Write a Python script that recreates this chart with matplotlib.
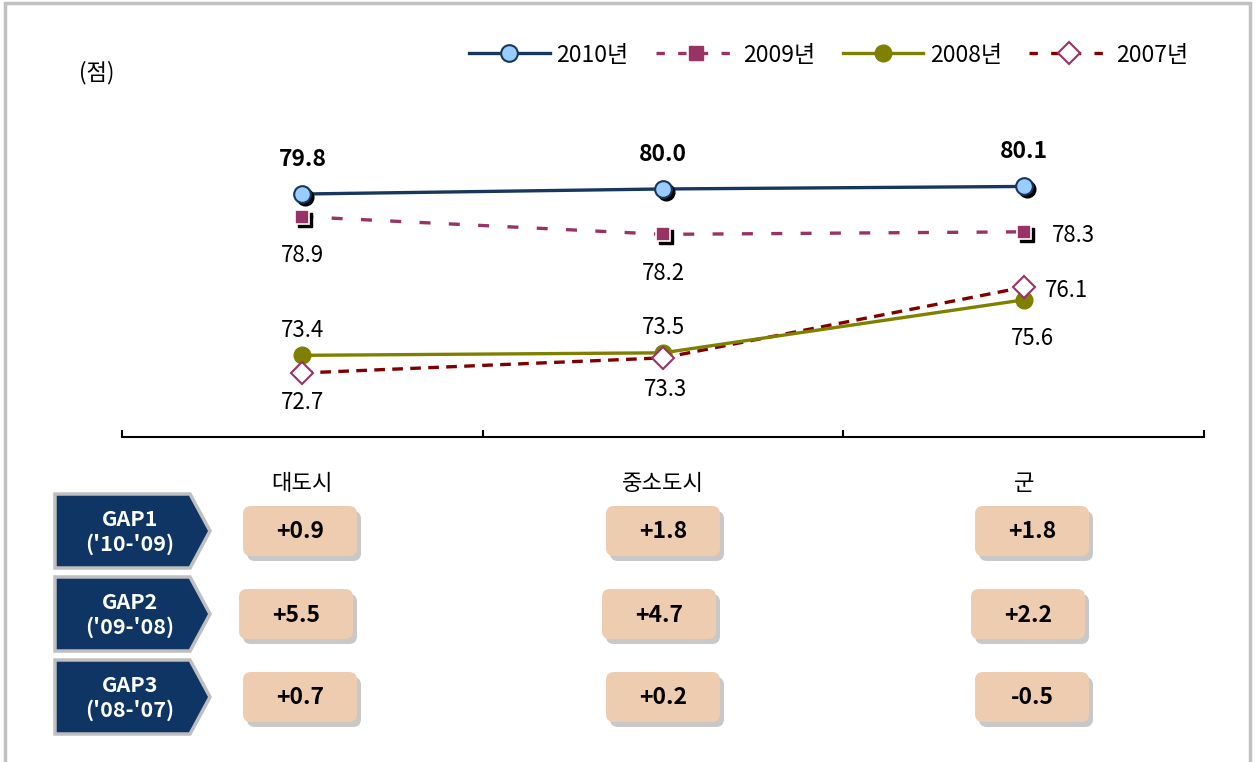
import matplotlib
matplotlib.use("Agg")
import matplotlib.pyplot as plt
from matplotlib.lines import Line2D
from matplotlib.patches import Polygon, FancyBboxPatch
from matplotlib.transforms import offset_copy

plt.rcParams["font.family"] = ["Noto Sans CJK KR", "DejaVu Sans"]

# data
regions = ["대도시", "중소도시", "군"]
years = ["2010년", "2009년", "2008년", "2007년"]
score_2010 = [79.8, 80.0, 80.1]
score_2009 = [78.9, 78.2, 78.3]
score_2008 = [73.4, 73.5, 75.6]
score_2007 = [72.7, 73.3, 76.1]
gap_names = ["GAP1\n('10-'09)", "GAP2\n('09-'08)", "GAP3\n('08-'07)"]
gap_values = [
    ["+0.9", "+1.8", "+1.8"],
    ["+5.5", "+4.7", "+2.2"],
    ["+0.7", "+0.2", "-0.5"],
]

W, H = 1256, 762
fig = plt.figure(figsize=(W / 100, H / 100), dpi=100)

# background layer in pixel coordinates
bg = fig.add_axes([0, 0, 1, 1])
bg.set_xlim(0, W)
bg.set_ylim(H, 0)
bg.axis("off")
bg.plot([5, 5, 1250, 1250], [H, 3, 3, H], color="#C0C0C0", lw=2.5,
        solid_joinstyle="miter")
bg.text(79, 73, "(점)", fontsize=16, ha="left", va="center")

# line chart
ax = fig.add_axes([122 / W, 1 - 437 / H, (1204 - 122) / W, (437 - 100) / H])
ax.set_xlim(0, 3)
ax.set_ylim(70.16, 83.53)
x = [0.5, 1.5, 2.5]

navy = "#17375E"
plum = "#993366"
olive = "#808000"
maroon = "#800000"

sh = offset_copy(ax.transData, fig=fig, x=3, y=-3, units="dots")

ax.plot(x, score_2007, color=maroon, lw=2.4, ls=(0, (3.2, 2.2)), zorder=2)
ax.plot(x, score_2007, ls="none", marker="D", ms=11, mfc="white",
        mec=plum, mew=1.5, zorder=5)

ax.plot(x, score_2008, color=olive, lw=2.4, zorder=3)
ax.plot(x, score_2008, ls="none", marker="o", ms=12, mfc=olive, mec=olive,
        zorder=4)

ax.plot(x, score_2009, color=plum, lw=2.4, ls=(0, (3.3, 5.5)), zorder=3)
ax.plot(x, score_2009, ls="none", marker="s", ms=10, mfc="black",
        mec="black", transform=sh, zorder=4)
ax.plot(x, score_2009, ls="none", marker="s", ms=10, mfc=plum,
        mec="white", mew=1.2, zorder=5)

ax.plot(x, score_2010, color=navy, lw=2.4, zorder=3)
ax.plot(x, score_2010, ls="none", marker="o", ms=12, mfc="black",
        mec="black", transform=sh, zorder=4)
ax.plot(x, score_2010, ls="none", marker="o", ms=12, mfc="#99CCFF",
        mec=navy, mew=1.5, zorder=5)

# data labels (offsets in points)
for xi, v in zip(x, score_2010):
    ax.annotate(f"{v:.1f}", (xi, v), xytext=(0, 25), textcoords="offset points",
                ha="center", va="center", fontsize=16.5, fontweight="bold")
off_2009 = [(0, -28), (0, -28), (36, -3)]
off_2008 = [(0, 18), (0, 18), (6, -28)]
off_2007 = [(0, -21), (2, -23), (31, -2)]
for offs, vals in [(off_2009, score_2009), (off_2008, score_2008),
                   (off_2007, score_2007)]:
    for xi, v, o in zip(x, vals, offs):
        ax.annotate(f"{v:.1f}", (xi, v), xytext=o, textcoords="offset points",
                    ha="center", va="center", fontsize=16)

for s in ["left", "top", "right"]:
    ax.spines[s].set_visible(False)
ax.spines["bottom"].set_linewidth(1.5)
ax.set_yticks([])
ax.set_xticks([0, 1, 2, 3])
ax.set_xticklabels([])
ax.tick_params(axis="x", which="major", direction="in", length=5, width=1.5)
ax.set_xticks(x, minor=True)
ax.set_xticklabels(regions, minor=True, fontsize=16)
ax.tick_params(axis="x", which="minor", length=0, pad=25)
ax.patch.set_alpha(0)

# legend
handles = [
    Line2D([], [], color=navy, lw=2.4, marker="o", ms=12, mfc="#99CCFF",
           mec=navy, mew=1.5),
    Line2D([], [], color=plum, lw=2.4, ls=(0, (2.5, 4)), marker="s", ms=10,
           mfc=plum, mec=plum),
    Line2D([], [], color=olive, lw=2.4, marker="o", ms=12, mfc=olive,
           mec=olive),
    Line2D([], [], color=maroon, lw=2.4, ls=(0, (2.5, 4)), marker="D", ms=11,
           mfc="white", mec=plum, mew=1.5),
]
fig.legend(handles, years, loc="center right",
           bbox_to_anchor=(1200 / W, 1 - 55 / H), ncol=4, frameon=False,
           fontsize=16.5, handlelength=3.5, handletextpad=0.3,
           columnspacing=1.2, borderpad=0)

# GAP panel
row_y = [531, 614, 697]
col_x = [300, 663, 1032]
row_shift = [0, -4, 0]
gap_fill = "#0E3563"
for r, (name, vals) in enumerate(zip(gap_names, gap_values)):
    cy = row_y[r]
    top, bot = cy - 37, cy + 37
    poly = Polygon([(55, top), (190, top), (210, cy), (190, bot), (55, bot)],
                   closed=True, fc=gap_fill, ec="#BFBFBF", lw=2.5,
                   joinstyle="miter")
    bg.add_patch(poly)
    bg.text(130, cy + 1, name, color="white", fontsize=15.5, fontweight="bold",
            ha="center", va="center", linespacing=1.2)
    for c, val in enumerate(vals):
        cx = col_x[c] + row_shift[r]
        bw, bh = 114, 50
        shadow = FancyBboxPatch((cx - bw / 2 + 4, cy - bh / 2 + 5), bw, bh,
                                boxstyle="round,pad=0,rounding_size=8",
                                fc="#C8C8C8", ec="none")
        box = FancyBboxPatch((cx - bw / 2, cy - bh / 2), bw, bh,
                             boxstyle="round,pad=0,rounding_size=8",
                             fc="#EECCB0", ec="none")
        bg.add_patch(shadow)
        bg.add_patch(box)
        bg.text(cx, cy + 1, val, fontsize=16.5, fontweight="bold",
                ha="center", va="center")

fig.savefig("out.png", dpi=100)
